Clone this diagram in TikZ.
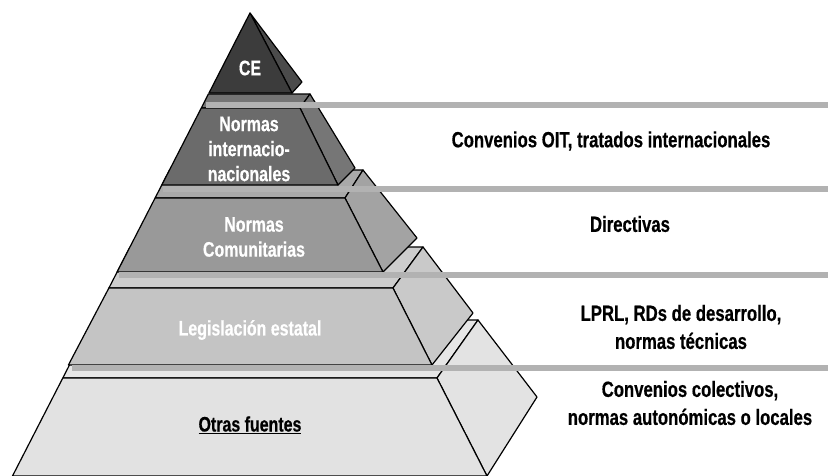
\documentclass[tikz,border=0pt]{standalone}
\usepackage{fontspec}
\setmainfont{Liberation Sans}[FakeStretch=0.76,BoldFeatures={FakeBold=0.5}]
\begin{document}
\begin{tikzpicture}[x=1pt,y=-1pt,
  face/.style={draw=black,line width=1.2pt,line join=round},
  band/.style={draw=none,fill=linegray},
  lbl/.style={font=\bfseries\fontsize{21}{25}\selectfont,text=white,align=center,inner sep=0pt},
  rlbl/.style={font=\bfseries\fontsize{22}{28}\selectfont,text=black,align=center,inner sep=0pt}]
\definecolor{linegray}{HTML}{B2B2B2}
\definecolor{tAf}{HTML}{3C3C3C}\definecolor{tAs}{HTML}{4B4B4B}
\definecolor{tBf}{HTML}{6B6B6B}\definecolor{tBs}{HTML}{767676}\definecolor{tBt}{HTML}{747474}
\definecolor{tCf}{HTML}{999999}\definecolor{tCs}{HTML}{A3A3A3}\definecolor{tCt}{HTML}{A9A9A9}
\definecolor{tDf}{HTML}{C4C4C4}\definecolor{tDs}{HTML}{C9C9C9}\definecolor{tDt}{HTML}{CDCDCD}
\definecolor{tEf}{HTML}{E2E2E2}\definecolor{tEs}{HTML}{E3E3E3}\definecolor{tEt}{HTML}{E6E6E6}
\useasboundingbox (0,0) rectangle (828,475);
% tier 5
\filldraw[face,fill=tEt] (62.8,378) -- (437,378) -- (478,320) -- (92.5,320) -- cycle;
\filldraw[face,fill=tEs] (437,378) -- (478,320) -- (537,397) -- (487,476) -- cycle;
\filldraw[face,fill=tEf] (62.8,378) -- (437,378) -- (487,476) -- (12.5,476) -- cycle;
% tier 4
\filldraw[face,fill=tDt] (108.9,288) -- (393,288) -- (423,247) -- (130,247) -- cycle;
\filldraw[face,fill=tDs] (393,288) -- (423,247) -- (473,313) -- (432,365) -- cycle;
\filldraw[face,fill=tDf] (108.9,288) -- (393,288) -- (432,365) -- (68.4,365) -- cycle;
% tier 3
\filldraw[face,fill=tCt] (155.1,198) -- (345,198) -- (363,170) -- (169.5,170) -- cycle;
\filldraw[face,fill=tCs] (345,198) -- (363,170) -- (417,238) -- (383,272) -- cycle;
\filldraw[face,fill=tCf] (155.1,198) -- (345,198) -- (383,272) -- (117.1,272) -- cycle;
% tier 2
\filldraw[face,fill=tBt] (201.3,108) -- (300,108) -- (310,94) -- (208.4,94) -- cycle;
\filldraw[face,fill=tBs] (300,108) -- (310,94) -- (355,168) -- (338,185) -- cycle;
\filldraw[face,fill=tBf] (201.3,108) -- (300,108) -- (338,185) -- (161.8,185) -- cycle;
% tier 1
\filldraw[face,fill=tAs] (250,13) -- (302,82) -- (292,93) -- cycle;
\filldraw[face,fill=tAf] (250,13) -- (292,93) -- (209,93) -- cycle;
% gray lines
\fill[band] (206,102) rectangle (828,108);
\fill[band] (163,186) rectangle (828,192);
\fill[band] (119,272) rectangle (828,278);
\fill[band] (72,365) rectangle (828,371);
% labels
\node[lbl] (ce) at (250,68) {CE};
\node[lbl] (ni) at (249,149) {Normas\\internacio-\\nacionales};
\node[lbl] (nc) at (254,237) {Normas\\Comunitarias};
\node[lbl] (le) at (250,330) {Legislación estatal};
\node[lbl,text=black] (of) at (250,425) {\underline{Otras fuentes}};
\node[rlbl] (r1) at (611,141) {Convenios OIT, tratados internacionales};
\node[rlbl] (r2) at (630,224) {Directivas};
\node[rlbl] (r3) at (681,327) {LPRL, RDs de desarrollo,\\normas técnicas};
\node[rlbl] (r4) at (690,403) {Convenios colectivos,\\normas autonómicas o locales};
\end{tikzpicture}
\end{document}
